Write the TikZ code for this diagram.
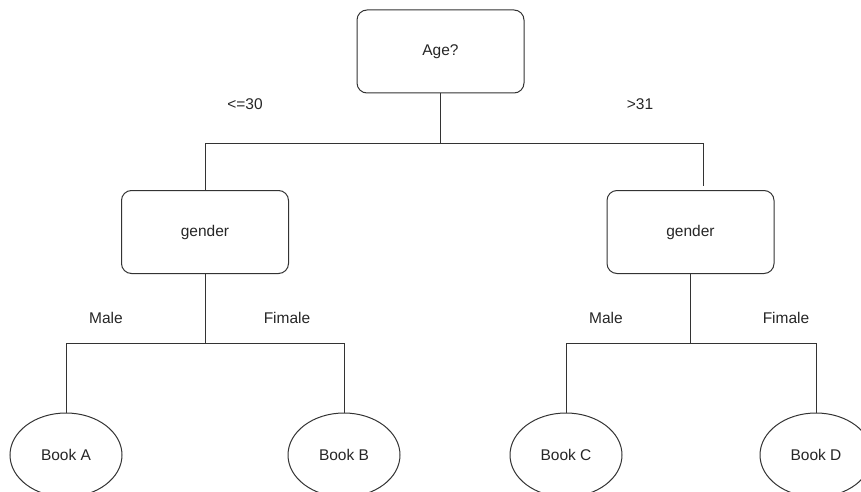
\documentclass[tikz,border=0pt]{standalone}
\usepackage{fontspec}
\setmainfont{Liberation Sans}
\usetikzlibrary{shapes.geometric}
\begin{document}
\begin{tikzpicture}[x=1pt,y=-1pt,
  every node/.style={font=\fontsize{15.5}{18}\selectfont, text=black!85},
  decbox/.style={draw=black!80, line width=1pt, rounded corners=10pt, minimum width=167pt, minimum height=83pt, inner sep=0pt},
  leaf/.style={draw=black!80, line width=1pt, ellipse, minimum width=112pt, minimum height=84pt, inner sep=0pt},
  conn/.style={draw=black!80, line width=1pt},
  lbl/.style={inner sep=0pt}]
\useasboundingbox (0,0) rectangle (861,492);
\node[decbox] (age) at (440.5,51.5) {Age?};
\node[decbox] (g1) at (205,232) {gender};
\node[decbox] (g2) at (690.5,232) {gender};
\node[leaf] (a) at (66,455) {Book A};
\node[leaf] (b) at (344,455) {Book B};
\node[leaf] (c) at (566,455) {Book C};
\node[leaf] (d) at (816,455) {Book D};
\coordinate (g2top) at (703,186);
\draw[conn] (age.south) -- ++(0,50) -| (g1.north);
\draw[conn] (age.south) -- ++(0,50) -| (g2top);
\draw[conn] (g1.south) -- ++(0,69) -| (a.north);
\draw[conn] (g1.south) -- ++(0,69) -| (b.north);
\draw[conn] (g2.south) -- ++(0,69) -| (c.north);
\draw[conn] (g2.south) -- ++(0,69) -| (d.north);
\node[lbl] (l1) at (245,104) {<=30};
\node[lbl] (l2) at (640,104) {>31};
\node[lbl] (l3) at (106,318) {Male};
\node[lbl] (l4) at (287,318) {Fimale};
\node[lbl] (l5) at (606,318) {Male};
\node[lbl] (l6) at (786,318) {Fimale};
\end{tikzpicture}
\end{document}
